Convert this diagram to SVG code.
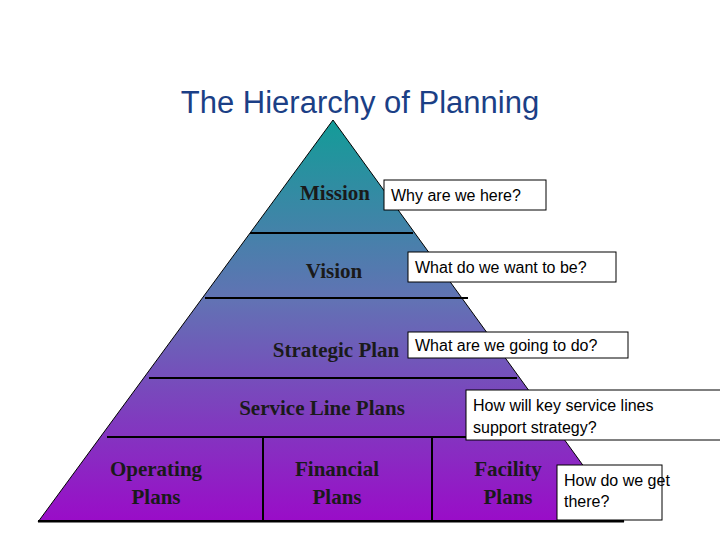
<svg xmlns="http://www.w3.org/2000/svg" width="720" height="540" viewBox="0 0 720 540">
<defs>
<linearGradient id="g" x1="0" y1="120" x2="0" y2="522" gradientUnits="userSpaceOnUse">
<stop offset="0" stop-color="#139c98"/>
<stop offset="0.45" stop-color="#6272b4"/>
<stop offset="1" stop-color="#9a0cc8"/>
</linearGradient>
<style>
.t{font-family:"Liberation Serif",serif;font-size:21px;font-weight:bold;fill:#1a1a1a;text-anchor:middle}
.b{fill:#fff;stroke:#000;stroke-width:1}
.q{font-family:"Liberation Sans",sans-serif;font-size:16px;fill:#000}
.l{stroke:#000;stroke-width:2;fill:none}
</style>
</defs>
<rect width="720" height="540" fill="#fff"/>
<text x="360" y="113" font-family="Liberation Sans,sans-serif" font-size="31" fill="#1b3f86" text-anchor="middle">The Hierarchy of Planning</text>
<g id="pyramid">
<polygon points="333,120 38,522 624,522" fill="url(#g)" stroke="#000" stroke-width="1"/>
</g>
<g id="connectors">
<line class="l" x1="250" y1="233" x2="413" y2="233"/>
<line class="l" x1="205" y1="298" x2="468" y2="298"/>
<line class="l" x1="149" y1="378" x2="517" y2="378"/>
<line class="l" x1="107" y1="437" x2="560" y2="437"/>
<line class="l" x1="263" y1="437" x2="263" y2="521"/>
<line class="l" x1="432" y1="437" x2="432" y2="521"/>
<line class="l" x1="38" y1="521" x2="624" y2="521"/>
</g>
<g id="mission"><text class="t" x="335" y="200">Mission</text></g>
<g id="vision"><text class="t" x="334" y="278">Vision</text></g>
<g id="strategic"><text class="t" x="336" y="357">Strategic Plan</text></g>
<g id="service"><text class="t" x="322" y="415">Service Line Plans</text></g>
<g id="operating"><text class="t" x="156" y="476">Operating</text><text class="t" x="156" y="504">Plans</text></g>
<g id="financial"><text class="t" x="337" y="476">Financial</text><text class="t" x="337" y="504">Plans</text></g>
<g id="facility"><text class="t" x="508" y="476">Facility</text><text class="t" x="508" y="504">Plans</text></g>
<g id="q1"><rect class="b" x="384" y="180" width="162" height="30"/><text class="q" x="391" y="201">Why are we here?</text></g>
<g id="q2"><rect class="b" x="408" y="252" width="208" height="30"/><text class="q" x="415" y="273">What do we want to be?</text></g>
<g id="q3"><rect class="b" x="408" y="332" width="220" height="26"/><text class="q" x="415" y="351">What are we going to do?</text></g>
<g id="q4"><rect class="b" x="466" y="390" width="260" height="50"/><text class="q" x="473" y="411">How will key service lines</text><text class="q" x="473" y="433">support strategy?</text></g>
<g id="q5"><rect class="b" x="557" y="465" width="105" height="55"/><text class="q" x="564" y="486">How do we get</text><text class="q" x="564" y="507">there?</text></g>
</svg>
